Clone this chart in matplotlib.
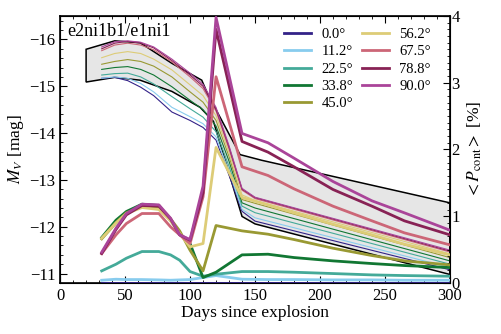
import matplotlib
matplotlib.use("Agg")
import matplotlib.pyplot as plt
from matplotlib.ticker import MultipleLocator

plt.rcParams['font.family'] = ['Liberation Serif', 'DejaVu Serif']
plt.rcParams['mathtext.fontset'] = 'stix'

angles = ["0.0°", "11.2°", "22.5°", "33.8°", "45.0°", "56.2°", "67.5°", "78.8°", "90.0°"]
colors = ["#332288", "#88CCEE", "#44AA99", "#117733", "#999933",
          "#DDCC77", "#CC6677", "#882255", "#AA4499"]

# Light curves (M_V) of e2ni1b1
t_lc = [32, 42, 52, 62, 72, 86, 100, 110, 120, 130, 140, 150, 300]
mv = {
    "0.0°":  [-15.17, -15.19, -15.12, -14.98, -14.80, -14.45, -14.27, -14.12, -13.85, -13.10, -12.33, -12.12, -11.08],
    "11.2°": [-15.17, -15.20, -15.17, -15.06, -14.88, -14.55, -14.35, -14.20, -13.92, -13.18, -12.37, -12.19, -11.13],
    "22.5°": [-15.24, -15.27, -15.28, -15.20, -15.05, -14.78, -14.52, -14.34, -14.03, -13.29, -12.44, -12.30, -11.20],
    "33.8°": [-15.36, -15.40, -15.42, -15.36, -15.24, -14.99, -14.70, -14.50, -14.15, -13.40, -12.51, -12.40, -11.27],
    "45.0°": [-15.47, -15.53, -15.57, -15.53, -15.43, -15.20, -14.88, -14.66, -14.27, -13.50, -12.58, -12.50, -11.34],
    "56.2°": [-15.61, -15.70, -15.74, -15.70, -15.58, -15.35, -15.03, -14.80, -14.37, -13.58, -12.68, -12.56, -11.42],
    "67.5°": [-15.76, -15.88, -15.92, -15.88, -15.78, -15.52, -15.20, -14.95, -14.47, -13.66, -12.78, -12.60, -11.46],
    "78.8°": [-15.80, -15.92, -15.96, -15.92, -15.82, -15.55, -15.24, -15.00, -14.51, -13.70, -12.80, -12.62, -11.48],
    "90.0°": [-15.84, -15.95, -15.97, -15.94, -15.84, -15.58, -15.28, -15.04, -14.55, -13.73, -12.82, -12.63, -11.50],
}

# e1ni1 band (upper and lower envelope)
t_up = [20, 42, 61.5, 86, 109, 114, 138.5, 155, 300]
m_up = [-15.79, -15.97, -15.93, -15.49, -15.13, -14.81, -13.54, -13.42, -12.51]
t_lo = [20, 42, 61.5, 86, 107.7, 118, 140, 150, 300]
m_lo = [-15.09, -15.19, -15.13, -14.89, -14.55, -14.25, -12.22, -12.06, -10.98]

# Continuum polarization (%)
t_p = [32, 43, 51, 63, 76, 85, 92, 100, 110, 120, 140, 160, 180, 210, 240, 265, 300]
pol = {
    "0.0°":  [0.005]*17,
    "11.2°": [0.04, 0.055, 0.05, 0.05, 0.045, 0.04, 0.045, 0.05, 0.08, 0.11, 0.055, 0.05, 0.05, 0.045, 0.045, 0.04, 0.04],
    "22.5°": [0.18, 0.28, 0.37, 0.47, 0.47, 0.42, 0.34, 0.17, 0.10, 0.13, 0.17, 0.17, 0.16, 0.14, 0.12, 0.11, 0.10],
    "33.8°": [0.68, 0.94, 1.07, 1.18, 1.16, 0.94, 0.74, 0.59, 0.08, 0.16, 0.42, 0.43, 0.38, 0.33, 0.29, 0.26, 0.23],
    "45.0°": [0.66, 0.90, 1.05, 1.14, 1.13, 0.96, 0.78, 0.49, 0.18, 0.86, 0.78, 0.73, 0.65, 0.52, 0.41, 0.33, 0.27],
    "56.2°": [0.67, 0.90, 1.04, 1.13, 1.10, 0.93, 0.74, 0.54, 0.59, 2.03, 1.28, 1.17, 1.05, 0.88, 0.72, 0.58, 0.42],
    "67.5°": [0.44, 0.72, 0.89, 1.04, 1.04, 0.84, 0.72, 0.59, 1.29, 3.09, 1.74, 1.61, 1.41, 1.15, 0.93, 0.75, 0.57],
    "78.8°": [0.44, 0.80, 1.02, 1.16, 1.15, 0.96, 0.72, 0.64, 1.35, 3.80, 2.12, 1.96, 1.74, 1.40, 1.15, 0.93, 0.72],
    "90.0°": [0.46, 0.82, 1.04, 1.18, 1.17, 0.97, 0.72, 0.65, 1.45, 3.98, 2.24, 2.10, 1.87, 1.52, 1.23, 1.05, 0.79],
}

fig = plt.figure(figsize=(5.01, 3.34), dpi=100)
ax = fig.add_axes([0.12, 0.153, 0.778, 0.799])

band_t = t_up + t_lo[::-1]
band_m = m_up + m_lo[::-1]
ax.fill(band_t, band_m, facecolor="#e6e6e6", edgecolor="black", lw=1.1, zorder=1)

for a, c in zip(angles, colors):
    ax.plot(t_lc, mv[a], color=c, lw=0.8, zorder=2)

ax.set_xlim(0, 300)
ax.set_ylim(-10.8, -16.5)
ax.xaxis.set_major_locator(MultipleLocator(50))
ax.xaxis.set_minor_locator(MultipleLocator(10))
ax.yaxis.set_major_locator(MultipleLocator(1))
ax.yaxis.set_minor_locator(MultipleLocator(0.2))
ax.tick_params(which='both', direction='in', top=True, right=False, labelsize=12)
ax.tick_params(which='major', length=5)
ax.tick_params(which='minor', length=2.5)
ax.set_xlabel("Days since explosion", fontsize=12.5, labelpad=1)
ax.set_ylabel(r"$M_V$ [mag]", fontsize=12.5, labelpad=2)
ax.text(0.018, 0.975, "e2ni1b1/e1ni1", transform=ax.transAxes, fontsize=13,
        va="top", ha="left")
for s in ax.spines.values():
    s.set_linewidth(1.2)

ax2 = ax.twinx()
handles = []
for a, c in zip(angles, colors):
    h, = ax2.plot(t_p, pol[a], color=c, lw=2.0, label=a, zorder=3)
    handles.append(h)
ax2.set_ylim(0, 4)
ax2.yaxis.set_major_locator(MultipleLocator(1))
ax2.yaxis.set_minor_locator(MultipleLocator(0.1))
ax2.tick_params(which='both', direction='in', labelsize=12, pad=1)
ax2.tick_params(which='major', length=5)
ax2.tick_params(which='minor', length=2.5)
ax2.set_ylabel(r"$<P_{\rm cont}>$ [%]", fontsize=12.5, labelpad=4)

leg = ax2.legend(handles=handles, loc="upper right", ncol=2, frameon=False,
                 fontsize=10.5, handlelength=1.85, columnspacing=0.6,
                 labelspacing=0.28, handletextpad=0.7,
                 bbox_to_anchor=(0.985, 1.005))

fig.savefig("out.png", dpi=100)
